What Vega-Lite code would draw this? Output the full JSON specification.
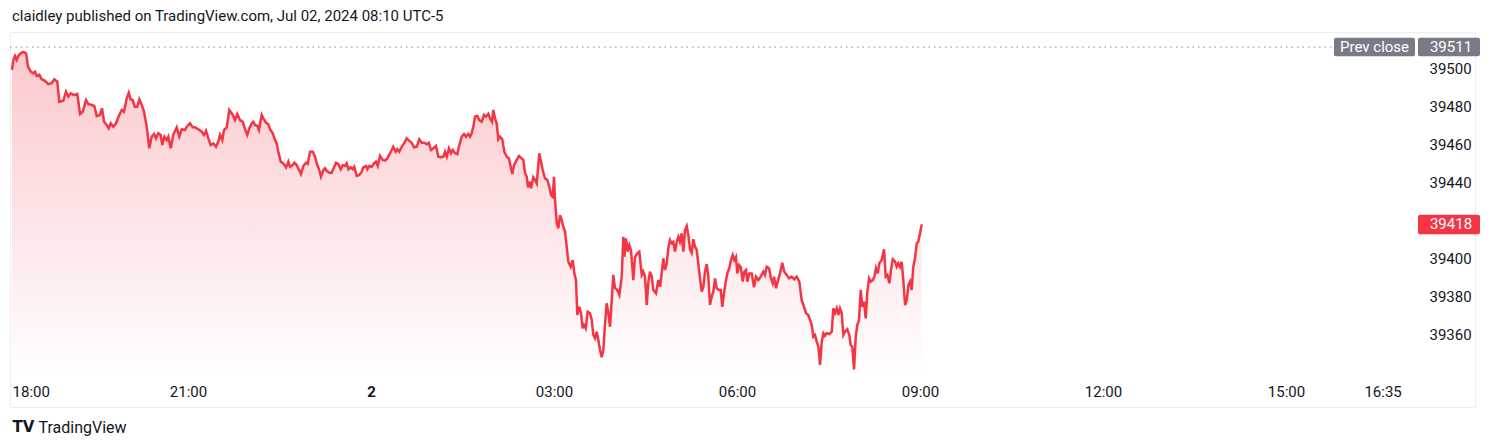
{
  "$schema": "https://vega.github.io/schema/vega-lite/v6.json",
  "width": 1465,
  "height": 375,
  "padding": {"left": 10, "top": 32, "right": 25, "bottom": 41},
  "autosize": "none",
  "background": "#ffffff",
  "title": {"text": "claidley published on TradingView.com, Jul 02, 2024 08:10 UTC-5", "anchor": "start", "frame": "group", "offset": 8, "dx": 2, "fontSize": 15, "fontWeight": "normal", "color": "#131722", "font": "Roboto"},
  "config": {"view": {"stroke": "#eceef2", "strokeWidth": 1}, "font": "Roboto"},
  "datasets": {
    "series": [
      {"minute": -353.1, "price": 39499.0}, {"minute": -351.8, "price": 39504.2}, {"minute": -350.2, "price": 39506.3}, {"minute": -348.5, "price": 39504.2}, {"minute": -346.9, "price": 39506.3}, {"minute": -344.6, "price": 39507.7}, {"minute": -342.0, "price": 39508.4}, {"minute": -339.3, "price": 39507.7}, {"minute": -337.4, "price": 39500.7}, {"minute": -334.7, "price": 39498.1},
      {"minute": -332.2, "price": 39497.2}, {"minute": -330.5, "price": 39498.1}, {"minute": -328.8, "price": 39495.8}, {"minute": -326.3, "price": 39496.5}, {"minute": -323.9, "price": 39494.1}, {"minute": -320.7, "price": 39493.3}, {"minute": -317.4, "price": 39491.6}, {"minute": -314.1, "price": 39492.0}, {"minute": -311.5, "price": 39494.1}, {"minute": -308.6, "price": 39492.8},
      {"minute": -306.6, "price": 39482.3}, {"minute": -302.7, "price": 39482.9}, {"minute": -300.0, "price": 39487.6}, {"minute": -297.7, "price": 39485.0}, {"minute": -295.4, "price": 39486.7}, {"minute": -292.1, "price": 39485.8}, {"minute": -288.9, "price": 39486.4}, {"minute": -286.2, "price": 39475.9}, {"minute": -283.6, "price": 39477.1}, {"minute": -280.3, "price": 39483.2},
      {"minute": -278.1, "price": 39481.1}, {"minute": -274.7, "price": 39480.6}, {"minute": -272.2, "price": 39480.1}, {"minute": -269.8, "price": 39474.8}, {"minute": -266.6, "price": 39475.4}, {"minute": -264.6, "price": 39478.9}, {"minute": -262.6, "price": 39471.8}, {"minute": -260.0, "price": 39470.1}, {"minute": -258.0, "price": 39468.4}, {"minute": -256.0, "price": 39471.0},
      {"minute": -253.5, "price": 39469.2}, {"minute": -250.8, "price": 39471.0}, {"minute": -247.6, "price": 39475.4}, {"minute": -245.2, "price": 39478.0}, {"minute": -243.0, "price": 39477.1}, {"minute": -240.3, "price": 39484.1}, {"minute": -238.3, "price": 39487.0}, {"minute": -236.4, "price": 39483.6}, {"minute": -234.4, "price": 39483.2}, {"minute": -232.4, "price": 39479.7},
      {"minute": -229.9, "price": 39479.7}, {"minute": -227.9, "price": 39483.6}, {"minute": -225.5, "price": 39480.6}, {"minute": -223.3, "price": 39477.1}, {"minute": -220.6, "price": 39469.2}, {"minute": -218.1, "price": 39457.9}, {"minute": -215.7, "price": 39464.0}, {"minute": -213.4, "price": 39465.4}, {"minute": -211.5, "price": 39463.1}, {"minute": -209.2, "price": 39465.8},
      {"minute": -206.9, "price": 39464.9}, {"minute": -205.3, "price": 39459.6}, {"minute": -203.3, "price": 39464.0}, {"minute": -201.0, "price": 39462.2}, {"minute": -199.4, "price": 39464.0}, {"minute": -197.0, "price": 39457.9}, {"minute": -194.5, "price": 39464.9}, {"minute": -191.1, "price": 39468.9}, {"minute": -188.6, "price": 39464.0}, {"minute": -186.2, "price": 39467.9},
      {"minute": -182.9, "price": 39467.5}, {"minute": -181.3, "price": 39469.2}, {"minute": -178.0, "price": 39471.0}, {"minute": -175.4, "price": 39468.9}, {"minute": -173.1, "price": 39468.9}, {"minute": -169.9, "price": 39467.9}, {"minute": -166.5, "price": 39466.6}, {"minute": -164.3, "price": 39464.9}, {"minute": -162.3, "price": 39467.1}, {"minute": -160.0, "price": 39463.1},
      {"minute": -157.7, "price": 39459.6}, {"minute": -155.1, "price": 39460.5}, {"minute": -152.5, "price": 39458.7}, {"minute": -150.2, "price": 39461.4}, {"minute": -148.5, "price": 39464.9}, {"minute": -146.3, "price": 39462.2}, {"minute": -144.6, "price": 39467.5}, {"minute": -141.9, "price": 39468.9}, {"minute": -139.4, "price": 39478.0}, {"minute": -136.0, "price": 39475.4},
      {"minute": -133.8, "price": 39472.7}, {"minute": -131.5, "price": 39475.9}, {"minute": -128.9, "price": 39472.7}, {"minute": -126.2, "price": 39471.8}, {"minute": -123.9, "price": 39467.9}, {"minute": -121.7, "price": 39464.9}, {"minute": -119.7, "price": 39468.4}, {"minute": -117.3, "price": 39471.0}, {"minute": -115.8, "price": 39471.8}, {"minute": -114.1, "price": 39470.1},
      {"minute": -111.8, "price": 39469.6}, {"minute": -110.2, "price": 39467.5}, {"minute": -107.5, "price": 39475.4}, {"minute": -105.9, "price": 39473.6}, {"minute": -103.3, "price": 39471.3}, {"minute": -101.0, "price": 39470.6}, {"minute": -99.3, "price": 39467.9}, {"minute": -96.7, "price": 39465.8}, {"minute": -94.4, "price": 39462.2}, {"minute": -92.8, "price": 39460.5},
      {"minute": -91.2, "price": 39456.1}, {"minute": -88.8, "price": 39450.9}, {"minute": -86.3, "price": 39450.0}, {"minute": -83.6, "price": 39447.9}, {"minute": -81.3, "price": 39450.9}, {"minute": -79.7, "price": 39448.2}, {"minute": -77.0, "price": 39449.1}, {"minute": -75.4, "price": 39450.3}, {"minute": -73.1, "price": 39449.1}, {"minute": -70.8, "price": 39446.5},
      {"minute": -68.9, "price": 39444.4}, {"minute": -66.6, "price": 39448.6}, {"minute": -63.9, "price": 39450.3}, {"minute": -62.3, "price": 39449.7}, {"minute": -60.0, "price": 39456.1}, {"minute": -57.3, "price": 39456.1}, {"minute": -55.1, "price": 39453.5}, {"minute": -52.8, "price": 39449.1}, {"minute": -50.9, "price": 39446.5}, {"minute": -49.2, "price": 39443.0},
      {"minute": -46.9, "price": 39446.5}, {"minute": -45.2, "price": 39447.4}, {"minute": -43.6, "price": 39446.1}, {"minute": -41.0, "price": 39445.1}, {"minute": -38.7, "price": 39445.1}, {"minute": -36.4, "price": 39447.9}, {"minute": -34.4, "price": 39450.3}, {"minute": -32.2, "price": 39449.7}, {"minute": -29.8, "price": 39446.9}, {"minute": -27.8, "price": 39449.1},
      {"minute": -25.6, "price": 39448.6}, {"minute": -23.9, "price": 39450.0}, {"minute": -22.3, "price": 39446.9}, {"minute": -20.0, "price": 39447.9}, {"minute": -18.0, "price": 39446.9}, {"minute": -16.4, "price": 39448.2}, {"minute": -14.1, "price": 39443.4}, {"minute": -11.5, "price": 39443.9}, {"minute": -9.1, "price": 39445.6}, {"minute": -7.6, "price": 39447.9},
      {"minute": -4.9, "price": 39448.6}, {"minute": -3.6, "price": 39446.9}, {"minute": -1.7, "price": 39448.6}, {"minute": 0.7, "price": 39448.2}, {"minute": 3.0, "price": 39450.0}, {"minute": 4.9, "price": 39450.9}, {"minute": 6.6, "price": 39448.6}, {"minute": 8.9, "price": 39453.9}, {"minute": 11.5, "price": 39451.8}, {"minute": 13.8, "price": 39451.4},
      {"minute": 16.0, "price": 39452.6}, {"minute": 18.7, "price": 39455.3}, {"minute": 21.9, "price": 39458.7}, {"minute": 24.3, "price": 39456.1}, {"minute": 25.9, "price": 39457.4}, {"minute": 27.8, "price": 39456.1}, {"minute": 30.2, "price": 39458.7}, {"minute": 32.5, "price": 39460.5}, {"minute": 35.1, "price": 39463.1}, {"minute": 37.4, "price": 39461.9},
      {"minute": 40.0, "price": 39460.8}, {"minute": 42.3, "price": 39458.4}, {"minute": 45.0, "price": 39458.7}, {"minute": 47.5, "price": 39462.6}, {"minute": 49.9, "price": 39460.8}, {"minute": 52.4, "price": 39460.8}, {"minute": 54.8, "price": 39460.0}, {"minute": 56.8, "price": 39460.8}, {"minute": 59.0, "price": 39457.0}, {"minute": 61.3, "price": 39457.9},
      {"minute": 63.9, "price": 39459.1}, {"minute": 66.2, "price": 39453.5}, {"minute": 68.9, "price": 39453.2}, {"minute": 71.1, "price": 39453.5}, {"minute": 72.8, "price": 39456.1}, {"minute": 74.5, "price": 39453.5}, {"minute": 76.7, "price": 39457.9}, {"minute": 78.7, "price": 39455.3}, {"minute": 80.4, "price": 39457.0}, {"minute": 82.6, "price": 39455.3},
      {"minute": 84.9, "price": 39454.9}, {"minute": 86.9, "price": 39459.6}, {"minute": 89.2, "price": 39464.0}, {"minute": 91.5, "price": 39465.4}, {"minute": 93.4, "price": 39464.0}, {"minute": 95.7, "price": 39465.4}, {"minute": 97.4, "price": 39464.0}, {"minute": 99.0, "price": 39465.8}, {"minute": 100.6, "price": 39469.2}, {"minute": 102.3, "price": 39474.5},
      {"minute": 104.6, "price": 39474.8}, {"minute": 106.5, "price": 39472.7}, {"minute": 108.9, "price": 39471.8}, {"minute": 111.1, "price": 39475.4}, {"minute": 113.1, "price": 39474.5}, {"minute": 115.4, "price": 39475.9}, {"minute": 117.1, "price": 39473.6}, {"minute": 119.0, "price": 39471.8}, {"minute": 120.3, "price": 39478.0}, {"minute": 122.0, "price": 39473.6},
      {"minute": 123.6, "price": 39471.0}, {"minute": 125.2, "price": 39462.6}, {"minute": 126.9, "price": 39464.0}, {"minute": 129.1, "price": 39462.6}, {"minute": 131.1, "price": 39456.1}, {"minute": 133.5, "price": 39453.5}, {"minute": 135.7, "price": 39452.6}, {"minute": 137.4, "price": 39448.2}, {"minute": 139.0, "price": 39444.4}, {"minute": 140.7, "price": 39449.1},
      {"minute": 143.3, "price": 39451.8}, {"minute": 145.6, "price": 39453.9}, {"minute": 148.2, "price": 39452.6}, {"minute": 149.8, "price": 39451.8}, {"minute": 151.5, "price": 39444.8}, {"minute": 153.2, "price": 39443.0}, {"minute": 154.4, "price": 39437.4}, {"minute": 156.4, "price": 39440.4}, {"minute": 157.4, "price": 39436.9}, {"minute": 159.6, "price": 39442.7},
      {"minute": 161.3, "price": 39441.3}, {"minute": 163.0, "price": 39439.5}, {"minute": 165.5, "price": 39455.3}, {"minute": 167.2, "price": 39450.9}, {"minute": 168.9, "price": 39446.5}, {"minute": 171.1, "price": 39442.2}, {"minute": 173.4, "price": 39441.3}, {"minute": 175.4, "price": 39437.8}, {"minute": 177.0, "price": 39433.4}, {"minute": 178.7, "price": 39432.5},
      {"minute": 180.0, "price": 39443.0}, {"minute": 181.0, "price": 39430.8}, {"minute": 182.7, "price": 39418.6}, {"minute": 184.2, "price": 39415.9}, {"minute": 185.9, "price": 39422.9}, {"minute": 187.6, "price": 39420.3}, {"minute": 189.1, "price": 39416.8}, {"minute": 190.8, "price": 39414.2}, {"minute": 192.5, "price": 39406.3}, {"minute": 194.1, "price": 39398.4},
      {"minute": 196.4, "price": 39395.8}, {"minute": 198.4, "price": 39399.3}, {"minute": 200.0, "price": 39392.3}, {"minute": 201.6, "price": 39388.8}, {"minute": 202.9, "price": 39370.5}, {"minute": 204.9, "price": 39374.8}, {"minute": 206.6, "price": 39371.4}, {"minute": 208.2, "price": 39363.5}, {"minute": 209.5, "price": 39365.2}, {"minute": 211.2, "price": 39363.5},
      {"minute": 213.1, "price": 39372.2}, {"minute": 215.4, "price": 39371.4}, {"minute": 217.1, "price": 39367.9}, {"minute": 218.7, "price": 39360.0}, {"minute": 220.3, "price": 39358.3}, {"minute": 222.0, "price": 39361.7}, {"minute": 223.6, "price": 39357.4}, {"minute": 225.2, "price": 39352.1}, {"minute": 226.9, "price": 39348.3}, {"minute": 228.5, "price": 39352.1},
      {"minute": 230.2, "price": 39366.0}, {"minute": 231.8, "price": 39376.6}, {"minute": 233.5, "price": 39371.4}, {"minute": 235.1, "price": 39364.3}, {"minute": 236.8, "price": 39378.3}, {"minute": 238.3, "price": 39391.5}, {"minute": 240.0, "price": 39384.6}, {"minute": 242.3, "price": 39383.6}, {"minute": 244.3, "price": 39381.0}, {"minute": 246.6, "price": 39390.6},
      {"minute": 248.2, "price": 39411.5}, {"minute": 249.2, "price": 39401.0}, {"minute": 250.8, "price": 39410.7}, {"minute": 252.5, "price": 39403.7}, {"minute": 254.1, "price": 39407.2}, {"minute": 255.7, "price": 39404.6}, {"minute": 258.0, "price": 39388.8}, {"minute": 259.7, "price": 39401.0}, {"minute": 261.9, "price": 39402.8}, {"minute": 263.9, "price": 39403.7},
      {"minute": 266.3, "price": 39391.5}, {"minute": 267.8, "price": 39393.2}, {"minute": 269.5, "price": 39390.6}, {"minute": 271.2, "price": 39375.7}, {"minute": 272.8, "price": 39387.9}, {"minute": 274.4, "price": 39393.2}, {"minute": 276.1, "price": 39390.6}, {"minute": 277.7, "price": 39383.6}, {"minute": 280.3, "price": 39381.9}, {"minute": 282.6, "price": 39388.8},
      {"minute": 284.3, "price": 39385.3}, {"minute": 285.9, "price": 39392.3}, {"minute": 287.5, "price": 39400.2}, {"minute": 289.2, "price": 39394.1}, {"minute": 290.9, "price": 39397.6}, {"minute": 292.4, "price": 39405.5}, {"minute": 294.1, "price": 39409.8}, {"minute": 295.8, "price": 39408.1}, {"minute": 297.3, "price": 39408.9}, {"minute": 299.0, "price": 39403.7},
      {"minute": 300.7, "price": 39408.9}, {"minute": 302.3, "price": 39411.5}, {"minute": 303.9, "price": 39408.9}, {"minute": 305.6, "price": 39413.3}, {"minute": 307.2, "price": 39403.7}, {"minute": 308.9, "price": 39415.1}, {"minute": 310.5, "price": 39417.1}, {"minute": 312.1, "price": 39412.4}, {"minute": 313.8, "price": 39404.9}, {"minute": 315.4, "price": 39403.1},
      {"minute": 317.0, "price": 39410.2}, {"minute": 318.7, "price": 39406.3}, {"minute": 320.4, "price": 39404.6}, {"minute": 321.9, "price": 39397.6}, {"minute": 323.6, "price": 39389.7}, {"minute": 325.3, "price": 39382.7}, {"minute": 326.9, "price": 39385.3}, {"minute": 328.5, "price": 39393.2}, {"minute": 330.2, "price": 39397.2}, {"minute": 331.8, "price": 39390.6},
      {"minute": 333.4, "price": 39375.7}, {"minute": 335.1, "price": 39380.1}, {"minute": 336.7, "price": 39382.7}, {"minute": 338.4, "price": 39389.7}, {"minute": 340.0, "price": 39384.5}, {"minute": 342.3, "price": 39383.6}, {"minute": 344.0, "price": 39383.6}, {"minute": 345.5, "price": 39374.8}, {"minute": 347.2, "price": 39381.9}, {"minute": 348.9, "price": 39388.0},
      {"minute": 350.5, "price": 39392.3}, {"minute": 352.4, "price": 39395.0}, {"minute": 354.1, "price": 39399.3}, {"minute": 355.8, "price": 39401.9}, {"minute": 357.3, "price": 39399.3}, {"minute": 359.0, "price": 39401.0}, {"minute": 360.3, "price": 39392.3}, {"minute": 362.0, "price": 39396.7}, {"minute": 363.6, "price": 39395.8}, {"minute": 365.6, "price": 39388.0},
      {"minute": 367.2, "price": 39393.2}, {"minute": 368.9, "price": 39394.1}, {"minute": 370.1, "price": 39388.0}, {"minute": 372.1, "price": 39392.3}, {"minute": 374.5, "price": 39392.3}, {"minute": 376.7, "price": 39385.0}, {"minute": 378.7, "price": 39390.6}, {"minute": 381.0, "price": 39388.8}, {"minute": 383.3, "price": 39390.6}, {"minute": 385.9, "price": 39393.2},
      {"minute": 387.5, "price": 39391.5}, {"minute": 389.2, "price": 39395.8}, {"minute": 391.5, "price": 39395.0}, {"minute": 393.4, "price": 39389.7}, {"minute": 395.1, "price": 39387.1}, {"minute": 396.4, "price": 39390.6}, {"minute": 398.4, "price": 39384.5}, {"minute": 400.0, "price": 39388.0}, {"minute": 402.3, "price": 39392.3}, {"minute": 404.5, "price": 39397.9},
      {"minute": 406.5, "price": 39393.2}, {"minute": 408.9, "price": 39391.5}, {"minute": 411.1, "price": 39389.7}, {"minute": 413.8, "price": 39390.6}, {"minute": 416.3, "price": 39389.2}, {"minute": 418.7, "price": 39390.6}, {"minute": 421.3, "price": 39388.0}, {"minute": 423.6, "price": 39378.3}, {"minute": 425.9, "price": 39374.8}, {"minute": 427.9, "price": 39371.4},
      {"minute": 430.1, "price": 39370.5}, {"minute": 431.8, "price": 39367.9}, {"minute": 433.5, "price": 39365.2}, {"minute": 435.1, "price": 39359.1}, {"minute": 436.7, "price": 39360.0}, {"minute": 438.4, "price": 39356.5}, {"minute": 440.0, "price": 39353.9}, {"minute": 441.7, "price": 39344.3}, {"minute": 443.3, "price": 39356.5}, {"minute": 445.0, "price": 39360.9},
      {"minute": 446.6, "price": 39359.5}, {"minute": 448.2, "price": 39360.9}, {"minute": 450.8, "price": 39360.5}, {"minute": 453.2, "price": 39361.7}, {"minute": 454.7, "price": 39374.0}, {"minute": 456.4, "price": 39371.4}, {"minute": 458.1, "price": 39374.0}, {"minute": 459.7, "price": 39370.5}, {"minute": 461.3, "price": 39374.0}, {"minute": 463.0, "price": 39371.4},
      {"minute": 464.6, "price": 39360.0}, {"minute": 466.2, "price": 39361.7}, {"minute": 468.5, "price": 39363.0}, {"minute": 470.5, "price": 39360.0}, {"minute": 471.8, "price": 39354.7}, {"minute": 473.4, "price": 39353.9}, {"minute": 475.1, "price": 39342.0}, {"minute": 476.8, "price": 39359.1}, {"minute": 478.3, "price": 39365.2}, {"minute": 480.0, "price": 39367.9},
      {"minute": 481.7, "price": 39383.6}, {"minute": 483.3, "price": 39374.8}, {"minute": 485.0, "price": 39377.5}, {"minute": 486.6, "price": 39368.7}, {"minute": 488.2, "price": 39382.7}, {"minute": 489.9, "price": 39389.7}, {"minute": 491.5, "price": 39388.0}, {"minute": 493.5, "price": 39388.8}, {"minute": 495.1, "price": 39390.6}, {"minute": 496.7, "price": 39395.0},
      {"minute": 498.4, "price": 39392.3}, {"minute": 500.0, "price": 39397.6}, {"minute": 502.3, "price": 39399.3}, {"minute": 504.6, "price": 39404.9}, {"minute": 506.3, "price": 39390.6}, {"minute": 507.9, "price": 39391.5}, {"minute": 509.9, "price": 39387.1}, {"minute": 511.5, "price": 39394.1}, {"minute": 513.2, "price": 39399.7}, {"minute": 515.5, "price": 39398.4},
      {"minute": 517.1, "price": 39395.8}, {"minute": 518.7, "price": 39397.6}, {"minute": 520.3, "price": 39395.8}, {"minute": 522.0, "price": 39398.4}, {"minute": 523.6, "price": 39388.8}, {"minute": 525.3, "price": 39375.7}, {"minute": 527.0, "price": 39378.3}, {"minute": 528.6, "price": 39386.2}, {"minute": 530.2, "price": 39388.0}, {"minute": 531.8, "price": 39383.6},
      {"minute": 533.4, "price": 39395.8}, {"minute": 535.1, "price": 39400.2}, {"minute": 536.8, "price": 39408.1}, {"minute": 538.3, "price": 39408.9}, {"minute": 540.0, "price": 39413.3}, {"minute": 541.7, "price": 39418.0}
    ],
    "marks": [{"label": "Prev close", "value": 39511}]
  },
  "layer": [
    {
      "data": {"name": "series"},
      "mark": {"type": "area", "clip": true, "interpolate": "linear", "color": {"gradient": "linear", "x1": 0, "y1": 0, "x2": 0, "y2": 1, "stops": [{"offset": 0, "color": "rgba(242,54,69,0.27)"}, {"offset": 1, "color": "rgba(242,54,69,0.0)"}]}},
      "encoding": {
        "x": {"field": "minute", "type": "quantitative", "scale": {"domain": [-355.1, 1085.9], "nice": false, "zero": false},
          "axis": {"orient": "bottom", "offset": -29, "values": [-353.1, -180, 0, 180, 360, 540, 720, 900, 995], "labelExpr": "datum.value < -300 ? '18:00' : datum.value == -180 ? '21:00' : datum.value == 0 ? '2' : datum.value == 180 ? '03:00' : datum.value == 360 ? '06:00' : datum.value == 540 ? '09:00' : datum.value == 720 ? '12:00' : datum.value == 900 ? '15:00' : '16:35'",
            "labelAlign": {"condition": {"test": "datum.value < -300", "value": "left"}, "value": "center"},
            "labelFontWeight": {"condition": {"test": "datum.value == 0", "value": "bold"}, "value": "normal"},
            "grid": false, "domain": false, "ticks": false, "labelPadding": 6, "labelFontSize": 15, "labelColor": "#131722", "labelFont": "Roboto", "labelOverlap": false, "labelFlush": false,
            "title": "TradingView", "titleAnchor": "start", "titleAlign": "left", "titleX": 28, "titleY": 49, "titleBaseline": "middle", "titleFontSize": 16, "titleFontWeight": "normal", "titleColor": "#131722", "titleFont": "Roboto"}},
        "y": {"field": "price", "type": "quantitative", "scale": {"domain": [39322.24, 39518.88], "nice": false, "zero": false},
          "axis": {"orient": "right", "offset": -55, "values": [39360, 39380, 39400, 39440, 39460, 39480, 39500], "format": "d", "grid": false, "domain": false, "ticks": false, "labelPadding": 9, "labelAlign": "left", "labelFontSize": 15, "labelColor": "#131722", "labelFont": "Roboto", "title": null}},
        "y2": {"datum": 39337.5}
      }
    },
    {
      "data": {"name": "series"},
      "mark": {"type": "line", "color": "#f23645", "strokeWidth": 2.5, "clip": true},
      "encoding": {"x": {"field": "minute", "type": "quantitative"}, "y": {"field": "price", "type": "quantitative"}}
    },
    {
      "data": {"name": "marks"},
      "mark": {"type": "rule", "color": "#a3a6af", "strokeWidth": 1.2, "strokeDash": [1.5, 4]},
      "encoding": {"y": {"field": "value", "type": "quantitative"}, "x": {"datum": -355.1}, "x2": {"datum": 946.2}}
    },
    {
      "data": {"name": "marks"},
      "mark": {"type": "rect", "color": "#787b86", "cornerRadius": 2},
      "encoding": {"x": {"datum": 947.2}, "x2": {"datum": 1026.9}, "y": {"datum": 39515.9}, "y2": {"datum": 39506.1}}
    },
    {
      "data": {"name": "marks"},
      "mark": {"type": "rect", "color": "#787b86", "cornerRadius": 2},
      "encoding": {"x": {"datum": 1029.8}, "x2": {"datum": 1090.8}, "y": {"datum": 39515.9}, "y2": {"datum": 39506.1}}
    },
    {
      "data": {"name": "marks"},
      "mark": {"type": "text", "color": "#ffffff", "fontSize": 15, "font": "Roboto", "align": "center", "baseline": "middle"},
      "encoding": {"x": {"datum": 987.1}, "y": {"field": "value", "type": "quantitative"}, "text": {"field": "label"}}
    },
    {
      "data": {"name": "marks"},
      "mark": {"type": "text", "color": "#ffffff", "fontSize": 15, "font": "Roboto", "align": "center", "baseline": "middle"},
      "encoding": {"x": {"datum": 1062.3}, "y": {"field": "value", "type": "quantitative"}, "text": {"field": "value", "type": "quantitative", "format": "d"}}
    },
    {
      "data": {"values": [{"last": 39418}]},
      "mark": {"type": "rect", "color": "#f23645", "cornerRadius": 2},
      "encoding": {"x": {"datum": 1029.8}, "x2": {"datum": 1090.8}, "y": {"datum": 39423.1}, "y2": {"datum": 39412.8}}
    },
    {
      "data": {"values": [{"last": 39418}]},
      "mark": {"type": "text", "color": "#ffffff", "fontSize": 15, "font": "Roboto", "align": "center", "baseline": "middle"},
      "encoding": {"x": {"datum": 1062.3}, "y": {"field": "last", "type": "quantitative"}, "text": {"field": "last", "type": "quantitative", "format": "d"}}
    },
    {
      "data": {"values": [{"logo": "TV"}]},
      "mark": {"type": "text", "color": "#131722", "fontSize": 15, "fontWeight": 900, "font": "DejaVu Sans", "align": "center", "baseline": "middle"},
      "encoding": {"x": {"datum": -341.8}, "y": {"datum": 39311.7}, "text": {"field": "logo"}}
    }
  ]
}
